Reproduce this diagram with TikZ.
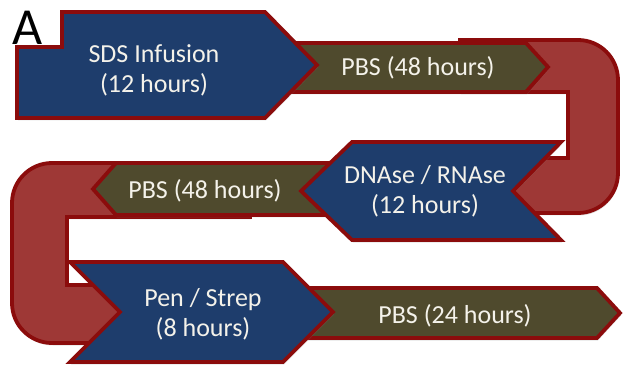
\documentclass[tikz,border=0pt]{standalone}
\usepackage{fontspec}
\setmainfont{Carlito}
\usetikzlibrary{shadows}
\definecolor{treatc}{RGB}{30,61,108}
\definecolor{washc}{RGB}{79,74,45}
\definecolor{turnc}{RGB}{158,56,54}
\definecolor{rimc}{RGB}{139,12,12}
\definecolor{txtc}{RGB}{244,242,234}

\begin{document}
\begin{tikzpicture}[x=1pt,y=-1pt,line join=miter,
  rim/.style={draw=rimc,line width=3.8pt},
  shd/.style={drop shadow={opacity=0.22,shadow xshift=1pt,shadow yshift=-2.5pt}},
  treat/.style={rim,shd,fill=treatc},
  wash/.style={rim,shd,fill=washc},
  turn/.style={rim,shd,fill=turnc},
  lbl/.style={text=txtc,align=center,inner sep=0pt,font=\fontsize{26}{30}\selectfont}]

\useasboundingbox (0,0) rectangle (623,371);

%============================== the two turns ==============================
\path[turn] (460,40) [rounded corners=40pt] -- (618,40) -- (618,213) [sharp corners]
  -- (460,213) -- (460,158) -- (568,158) -- (568,92) -- (460,92) -- cycle;
\path[turn] (250,163) [rounded corners=40pt] -- (12,163) -- (12,343) [sharp corners]
  -- (250,343) -- (250,285) -- (67,285) -- (67,217) -- (250,217) -- cycle;

%============================== washing steps ==============================
\path[wash] (270,43) -- (526,43) -- (548,67) -- (526,92) -- (270,92) -- cycle;
\path[wash] (340,163) -- (116,163) -- (93,189) -- (116,215) -- (340,215) -- cycle;
\path[wash] (290,288) -- (597,288) -- (620,313) -- (597,338) -- (290,338) -- cycle;

%============================== treatment steps ==============================
\path[treat] (17,47) -- (62,47) -- (62,12) -- (265,12) -- (317,65) -- (265,118) -- (17,118) -- cycle;
\path[treat] (561,142) -- (352,142) -- (301,191) -- (352,240) -- (561,240) -- (513,191) -- cycle;
\path[treat] (70,262) -- (283,262) -- (333,312) -- (283,362) -- (70,362) -- (120,312) -- cycle;

%============================== labels ==============================
\node[anchor=center,font=\fontsize{52}{52}\selectfont,inner sep=0pt] (panel) at (28,28) {A};

\node[lbl] (sds) at (154,70) {SDS Infusion\\(12 hours)};
\node[lbl] (pbsa) at (418,68) {PBS (48 hours)};
\node[lbl] (dnase) at (425,191) {DNAse / RNAse\\(12 hours)};
\node[lbl] (pbsb) at (205,191) {PBS (48 hours)};
\node[lbl] (pen) at (203,314) {Pen / Strep\\(8 hours)};
\node[lbl] (pbsc) at (455,316) {PBS (24 hours)};
\end{tikzpicture}
\end{document}
